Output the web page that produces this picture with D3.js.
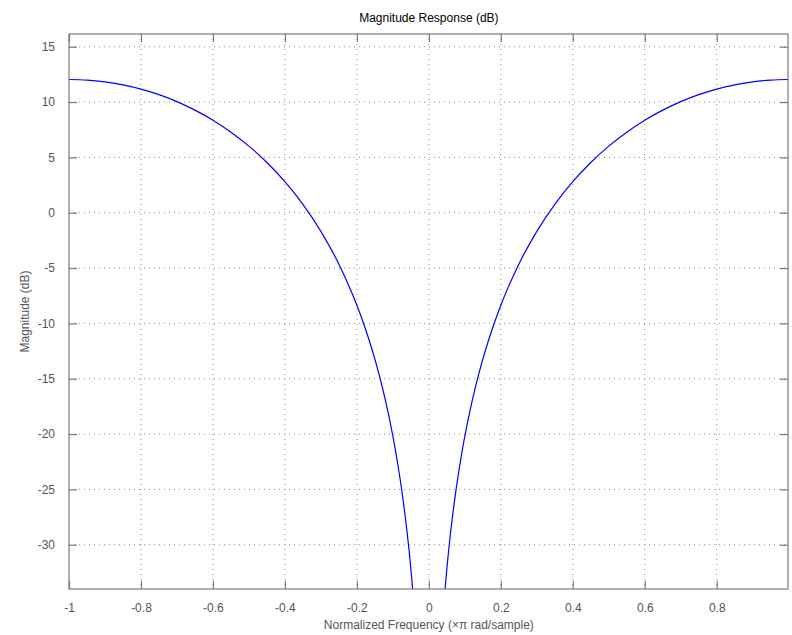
<!DOCTYPE html>
<html>
<head>
<meta charset="utf-8">
<script src="https://cdn.jsdelivr.net/npm/d3@7"></script>
<style>
  body { margin: 0; background: #fff; }
  text { font-family: "Liberation Sans", Arial, sans-serif; }
</style>
</head>
<body>
<script>
// normalized frequency (x pi rad/sample) and magnitude in dB
const freq = [-1, -0.95, -0.9, -0.85, -0.8, -0.75, -0.7, -0.65, -0.6, -0.55, -0.5,
  -0.45, -0.4, -0.35, -0.3, -0.25, -0.2, -0.18, -0.16, -0.14, -0.12, -0.1,
  -0.09, -0.08, -0.075, -0.07, -0.065, -0.06, -0.055, -0.05, -0.045,
  0,
  0.045, 0.05, 0.055, 0.06, 0.065, 0.07, 0.075, 0.08, 0.09, 0.1,
  0.12, 0.14, 0.16, 0.18, 0.2, 0.25, 0.3, 0.35, 0.4, 0.45, 0.5,
  0.55, 0.6, 0.65, 0.7, 0.75, 0.8, 0.85, 0.9, 0.95, 0.998];
const magDb = [12.04, 11.99, 11.83, 11.55, 11.17, 10.67, 10.04, 9.27, 8.36, 7.28, 6.02,
  4.54, 2.81, 0.76, -1.68, -4.65, -8.36, -10.14, -12.13, -14.41, -17.05, -20.19,
  -22.0, -24.04, -25.15, -26.35, -27.63, -29.01, -30.52, -32.17, -34.0,
  null,
  -34.0, -32.17, -30.52, -29.01, -27.63, -26.35, -25.15, -24.04, -22.0, -20.19,
  -17.05, -14.41, -12.13, -10.14, -8.36, -4.65, -1.68, 0.76, 2.81, 4.54, 6.02,
  7.28, 8.36, 9.27, 10.04, 10.67, 11.17, 11.55, 11.83, 11.99, 12.04];

const xTicks = [-1, -0.8, -0.6, -0.4, -0.2, 0, 0.2, 0.4, 0.6, 0.8];
const yTicks = [-30, -25, -20, -15, -10, -5, 0, 5, 10, 15];

const W = 792, H = 635;
const margin = { top: 34, right: 4, bottom: 46, left: 69 };
const width = W - margin.left - margin.right;
const height = H - margin.top - margin.bottom;

const x = d3.scaleLinear().domain([-1, 0.998]).range([0, width]);
const y = d3.scaleLinear().domain([-34, 16.15]).range([height, 0]);

const svg = d3.select('body').append('svg')
  .attr('width', W)
  .attr('height', H);

const g = svg.append('g')
  .attr('transform', `translate(${margin.left},${margin.top})`);

g.append('clipPath').attr('id', 'clip')
  .append('rect').attr('width', width).attr('height', height);

// grid
const gridColor = '#8c8c8c';
g.append('g').selectAll('line').data(xTicks.slice(1)).join('line')
  .attr('x1', d => x(d)).attr('x2', d => x(d))
  .attr('y1', 0).attr('y2', height)
  .attr('stroke', gridColor).attr('stroke-dasharray', '1,4');
g.append('g').selectAll('line').data(yTicks).join('line')
  .attr('x1', 0).attr('x2', width)
  .attr('y1', d => y(d)).attr('y2', d => y(d))
  .attr('stroke', gridColor).attr('stroke-dasharray', '1,4');

// curve
const line = d3.line()
  .defined((d, i) => magDb[i] !== null)
  .x(d => x(d))
  .y((d, i) => y(magDb[i]))
  .curve(d3.curveMonotoneX);

g.append('path')
  .datum(freq)
  .attr('clip-path', 'url(#clip)')
  .attr('fill', 'none')
  .attr('stroke', '#0000ff')
  .attr('stroke-width', 1.2)
  .attr('d', line);

// axes (ticks point inward on all four sides)
const axisColor = '#7a7a7a';
const tl = 8;
const fmt = d => String(d);
function styleAxis(sel) {
  sel.select('.domain').remove();
  sel.selectAll('.tick line').attr('stroke', axisColor).attr('stroke-width', 1.2);
  sel.selectAll('.tick text').attr('fill', '#555').style('font-size', '12px');
}

g.append('g')
  .attr('transform', `translate(0,${height})`)
  .call(d3.axisBottom(x).tickValues(xTicks).tickFormat(fmt).tickSizeInner(-tl).tickPadding(tl + 6))
  .call(styleAxis);
g.append('g')
  .call(d3.axisTop(x).tickValues(xTicks).tickSizeInner(-tl).tickFormat(''))
  .call(styleAxis);
g.append('g')
  .call(d3.axisLeft(y).tickValues(yTicks).tickFormat(fmt).tickSizeInner(-tl).tickPadding(tl + 6))
  .call(styleAxis);
g.append('g')
  .attr('transform', `translate(${width},0)`)
  .call(d3.axisRight(y).tickValues(yTicks).tickSizeInner(-tl).tickFormat(''))
  .call(styleAxis);

g.append('rect')
  .attr('width', width).attr('height', height)
  .attr('fill', 'none').attr('stroke', axisColor).attr('stroke-width', 1.2);

// labels
svg.append('text')
  .attr('x', margin.left + x(0)).attr('y', 22)
  .attr('text-anchor', 'middle')
  .style('font-size', '12px').attr('fill', '#000')
  .text('Magnitude Response (dB)');

svg.append('text')
  .attr('x', margin.left + x(0)).attr('y', 629)
  .attr('text-anchor', 'middle')
  .style('font-size', '12px').attr('fill', '#555')
  .text('Normalized Frequency (\u00d7\u03c0 rad/sample)');

svg.append('text')
  .attr('transform', `translate(29,${margin.top + height / 2}) rotate(-90)`)
  .attr('text-anchor', 'middle')
  .style('font-size', '12px').attr('fill', '#555')
  .text('Magnitude (dB)');
</script>
</body>
</html>
